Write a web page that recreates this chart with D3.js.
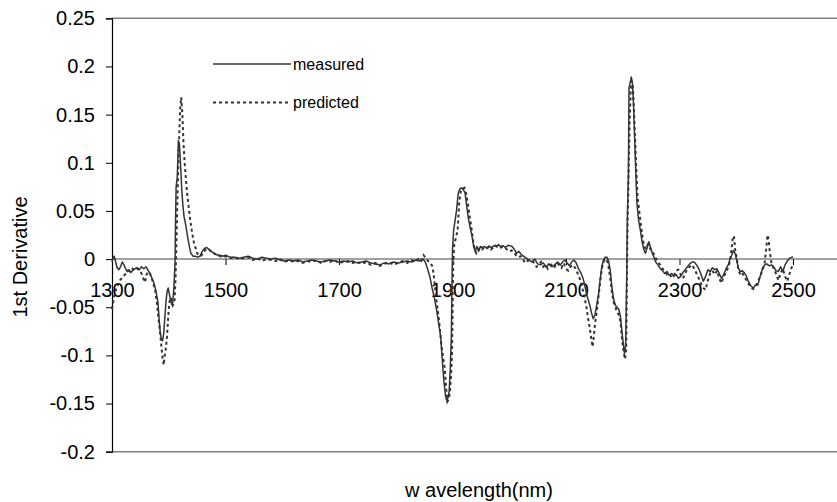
<!DOCTYPE html>
<html>
<head>
<meta charset="utf-8">
<script src="https://cdn.jsdelivr.net/npm/d3@7/dist/d3.min.js"></script>
<style>
  html, body { margin: 0; padding: 0; background: #fff; }
  svg { display: block; font-family: "Liberation Sans", Arial, sans-serif; }
</style>
</head>
<body>
<svg id="chart" width="837" height="502"></svg>
<script>
// Tick values on each axis
const xTicks = [1300, 1500, 1700, 1900, 2100, 2300, 2500];
const yTicks = [-0.2, -0.15, -0.1, -0.05, 0, 0.05, 0.1, 0.15, 0.2, 0.25];

// Series names
const seriesNames = ["measured", "predicted"];

// Measured 1st-derivative spectrum: [wavelength (nm), value]
const measured = [
  [1300,-0.003],[1302,0.001],[1304,0.003],[1306,-0.002],[1309,-0.009],[1312,-0.011],[1315,-0.008],
  [1318,-0.003],[1321,-0.006],[1324,-0.010],[1327,-0.013],[1330,-0.011],[1333,-0.014],[1336,-0.012],
  [1340,-0.010],[1344,-0.009],[1348,-0.011],[1352,-0.008],[1356,-0.010],[1360,-0.008],[1363,-0.011],
  [1366,-0.014],[1369,-0.018],[1372,-0.022],[1375,-0.027],[1378,-0.035],[1381,-0.045],[1383,-0.062],
  [1385,-0.076],[1387,-0.083],[1389,-0.085],[1391,-0.078],[1393,-0.062],[1395,-0.045],[1397,-0.034],
  [1399,-0.030],[1401,-0.036],[1403,-0.042],[1405,-0.047],[1407,-0.045],[1409,-0.030],[1411,-0.005],
  [1412,0.040],[1413,0.075],[1415,0.085],[1417,0.123],[1419,0.118],[1421,0.095],[1423,0.072],
  [1425,0.055],[1427,0.044],[1430,0.035],[1433,0.024],[1436,0.014],[1439,0.006],[1443,0.003],
  [1447,0.003],[1451,0.002],[1455,0.003],[1459,0.008],[1463,0.011],[1467,0.012],[1471,0.010],
  [1475,0.008],[1479,0.006],[1483,0.005],[1487,0.004],[1491,0.004],[1495,0.003],[1500,0.004],
  [1508,0.002],[1516,0.002],[1524,0.001],[1532,0.002],[1540,0.003],[1548,0.001],[1556,0.000],
  [1564,0.002],[1572,0.001],[1580,0.000],[1588,0.001],[1596,-0.001],[1604,-0.002],[1612,-0.001],
  [1620,-0.002],[1628,-0.001],[1636,-0.003],[1644,-0.002],[1652,-0.001],[1660,-0.002],[1668,-0.003],
  [1676,-0.002],[1684,-0.001],[1692,-0.002],[1700,-0.003],[1708,-0.002],[1716,-0.003],[1724,-0.002],
  [1732,-0.004],[1740,-0.003],[1748,-0.002],[1756,-0.004],[1764,-0.005],[1772,-0.006],[1780,-0.004],
  [1788,-0.005],[1796,-0.003],[1804,-0.004],[1812,-0.003],[1820,-0.002],[1828,-0.003],[1836,-0.001],
  [1842,-0.002],[1848,0.000],[1852,-0.003],[1856,-0.010],[1860,-0.018],[1864,-0.030],[1868,-0.040],
  [1872,-0.053],[1876,-0.068],[1879,-0.080],[1882,-0.105],[1885,-0.128],[1888,-0.143],[1890,-0.147],
  [1892,-0.144],[1894,-0.138],[1896,-0.115],[1898,-0.080],[1899,-0.030],[1900,0.010],[1902,0.030],
  [1904,0.038],[1907,0.050],[1910,0.068],[1913,0.073],[1916,0.074],[1919,0.072],[1922,0.069],
  [1925,0.055],[1928,0.042],[1931,0.033],[1934,0.025],[1937,0.014],[1940,0.008],[1943,0.013],
  [1946,0.008],[1949,0.013],[1953,0.012],[1957,0.013],[1961,0.011],[1965,0.013],[1969,0.012],
  [1973,0.014],[1977,0.013],[1981,0.015],[1985,0.013],[1989,0.014],[1993,0.012],[1997,0.014],
  [2001,0.014],[2005,0.013],[2009,0.010],[2013,0.006],[2017,0.008],[2021,0.005],[2025,0.003],
  [2030,0.001],[2035,-0.001],[2040,-0.003],[2045,0.000],[2050,-0.005],[2055,-0.006],[2060,-0.004],
  [2065,-0.008],[2070,-0.005],[2075,-0.008],[2080,-0.006],[2085,-0.003],[2090,-0.006],[2094,-0.003],
  [2098,-0.001],[2102,-0.004],[2106,-0.007],[2110,-0.003],[2114,-0.001],[2118,-0.004],[2122,-0.010],
  [2126,-0.014],[2130,-0.020],[2134,-0.030],[2138,-0.040],[2142,-0.048],[2145,-0.056],[2148,-0.062],
  [2151,-0.058],[2154,-0.048],[2157,-0.038],[2160,-0.022],[2163,-0.008],[2166,-0.001],[2169,0.002],
  [2172,0.002],[2175,-0.002],[2178,-0.012],[2181,-0.030],[2184,-0.042],[2187,-0.048],[2190,-0.050],
  [2193,-0.052],[2196,-0.060],[2199,-0.078],[2201,-0.088],[2203,-0.098],[2205,-0.090],[2207,-0.020],
  [2208,0.040],[2210,0.090],[2211,0.178],[2213,0.183],[2215,0.189],[2217,0.183],[2219,0.160],
  [2221,0.125],[2223,0.090],[2225,0.058],[2228,0.040],[2231,0.030],[2234,0.018],[2237,0.010],
  [2240,0.006],[2243,0.012],[2246,0.018],[2249,0.012],[2252,0.006],[2255,0.002],[2258,-0.003],
  [2262,-0.006],[2266,-0.010],[2270,-0.012],[2274,-0.015],[2278,-0.013],[2282,-0.017],[2286,-0.015],
  [2290,-0.018],[2294,-0.016],[2298,-0.020],[2302,-0.018],[2306,-0.014],[2310,-0.011],[2314,-0.008],
  [2318,-0.005],[2322,-0.003],[2326,-0.003],[2330,-0.006],[2334,-0.010],[2338,-0.016],[2342,-0.023],
  [2346,-0.018],[2350,-0.011],[2354,-0.013],[2358,-0.009],[2362,-0.011],[2366,-0.010],[2370,-0.015],
  [2374,-0.020],[2378,-0.016],[2382,-0.010],[2386,-0.006],[2389,0.000],[2392,0.004],[2395,0.009],
  [2398,0.006],[2401,-0.002],[2404,-0.010],[2407,-0.013],[2410,-0.012],[2414,-0.014],[2418,-0.018],
  [2422,-0.024],[2426,-0.028],[2430,-0.030],[2434,-0.027],[2438,-0.027],[2442,-0.018],[2446,-0.010],
  [2450,-0.006],[2454,-0.005],[2458,-0.007],[2462,-0.006],[2466,-0.008],[2470,-0.012],[2474,-0.013],
  [2478,-0.008],[2482,-0.013],[2486,-0.006],[2490,-0.002],[2494,0.001],[2498,0.002],[2500,0.002]
];

// Predicted 1st-derivative spectrum: [wavelength (nm), value]
const predicted = [
  [1300,-0.052],[1302,-0.045],[1305,-0.035],[1308,-0.030],[1311,-0.026],[1314,-0.022],[1317,-0.020],
  [1320,-0.018],[1324,-0.015],[1328,-0.012],[1332,-0.013],[1336,-0.010],[1340,-0.012],[1344,-0.010],
  [1348,-0.011],[1352,-0.015],[1355,-0.020],[1358,-0.024],[1361,-0.016],[1364,-0.013],[1367,-0.015],
  [1370,-0.020],[1373,-0.026],[1376,-0.032],[1379,-0.045],[1382,-0.062],[1385,-0.078],[1387,-0.090],
  [1389,-0.102],[1391,-0.110],[1393,-0.100],[1395,-0.092],[1397,-0.080],[1399,-0.060],[1401,-0.045],
  [1404,-0.040],[1407,-0.048],[1410,-0.045],[1412,-0.020],[1414,0.030],[1416,0.080],[1418,0.120],
  [1420,0.155],[1422,0.168],[1424,0.150],[1426,0.120],[1428,0.100],[1430,0.085],[1432,0.070],
  [1435,0.055],[1438,0.040],[1441,0.028],[1444,0.018],[1447,0.012],[1450,0.006],[1454,0.003],
  [1458,0.004],[1462,0.008],[1466,0.010],[1470,0.011],[1474,0.008],[1478,0.007],[1482,0.005],
  [1486,0.004],[1490,0.003],[1495,0.002],[1500,0.003],[1508,0.001],[1516,0.002],[1524,0.000],
  [1532,0.001],[1540,0.002],[1548,-0.001],[1556,0.001],[1564,-0.002],[1572,0.000],[1580,-0.001],
  [1588,-0.002],[1596,0.000],[1604,-0.003],[1612,-0.001],[1620,-0.003],[1628,-0.002],[1636,-0.004],
  [1644,-0.002],[1652,-0.003],[1660,-0.001],[1668,-0.004],[1676,-0.002],[1684,-0.003],[1692,-0.001],
  [1700,-0.004],[1708,-0.003],[1716,-0.002],[1724,-0.004],[1732,-0.003],[1740,-0.005],[1748,-0.003],
  [1756,-0.006],[1764,-0.004],[1772,-0.007],[1780,-0.005],[1788,-0.003],[1796,-0.006],[1804,-0.004],
  [1812,-0.002],[1820,-0.004],[1828,-0.001],[1834,-0.003],[1840,0.000],[1845,-0.002],[1849,0.004],
  [1853,0.001],[1857,-0.002],[1861,-0.004],[1865,-0.008],[1868,-0.022],[1871,-0.040],[1874,-0.053],
  [1877,-0.068],[1880,-0.087],[1883,-0.100],[1886,-0.112],[1889,-0.135],[1891,-0.148],[1893,-0.146],
  [1895,-0.140],[1897,-0.125],[1899,-0.100],[1900,-0.060],[1901,-0.010],[1903,0.015],[1906,0.022],
  [1909,0.030],[1912,0.060],[1915,0.072],[1918,0.073],[1921,0.074],[1924,0.068],[1927,0.058],
  [1930,0.045],[1933,0.034],[1936,0.020],[1939,0.010],[1942,0.006],[1945,0.008],[1948,0.012],
  [1952,0.010],[1956,0.012],[1960,0.011],[1964,0.013],[1968,0.010],[1972,0.012],[1976,0.014],
  [1980,0.012],[1984,0.011],[1988,0.013],[1992,0.012],[1996,0.010],[2000,0.008],[2004,0.009],
  [2008,0.007],[2012,0.004],[2016,0.002],[2020,0.003],[2024,0.000],[2028,-0.004],[2032,-0.002],
  [2036,-0.001],[2040,-0.002],[2044,-0.004],[2048,-0.008],[2052,-0.006],[2056,-0.003],[2060,-0.008],
  [2064,-0.006],[2068,-0.010],[2072,-0.007],[2076,-0.005],[2080,-0.008],[2084,-0.004],[2088,-0.006],
  [2092,-0.009],[2096,-0.004],[2100,-0.010],[2104,-0.012],[2108,-0.008],[2112,-0.006],[2116,-0.009],
  [2120,-0.014],[2124,-0.020],[2128,-0.028],[2132,-0.038],[2136,-0.050],[2139,-0.062],[2142,-0.072],
  [2145,-0.085],[2147,-0.091],[2149,-0.080],[2151,-0.068],[2154,-0.055],[2157,-0.040],[2160,-0.025],
  [2163,-0.010],[2166,-0.003],[2169,0.000],[2172,-0.001],[2175,-0.008],[2178,-0.020],[2181,-0.035],
  [2184,-0.045],[2187,-0.050],[2190,-0.055],[2193,-0.058],[2196,-0.065],[2199,-0.085],[2202,-0.098],
  [2204,-0.104],[2206,-0.095],[2207,-0.040],[2208,0.020],[2210,0.080],[2212,0.140],[2214,0.175],
  [2216,0.185],[2218,0.178],[2220,0.150],[2222,0.120],[2224,0.090],[2226,0.065],[2229,0.050],
  [2232,0.035],[2235,0.022],[2238,0.013],[2241,0.010],[2244,0.015],[2247,0.013],[2250,0.008],
  [2254,0.006],[2258,0.001],[2262,-0.003],[2266,-0.006],[2270,-0.010],[2274,-0.013],[2278,-0.016],
  [2282,-0.015],[2286,-0.019],[2290,-0.017],[2294,-0.012],[2298,-0.011],[2302,-0.016],[2306,-0.020],
  [2310,-0.015],[2314,-0.010],[2318,-0.008],[2322,-0.006],[2326,-0.010],[2330,-0.015],[2334,-0.020],
  [2338,-0.026],[2342,-0.030],[2346,-0.032],[2350,-0.022],[2354,-0.015],[2358,-0.012],[2362,-0.016],
  [2366,-0.012],[2370,-0.020],[2374,-0.025],[2378,-0.018],[2382,-0.014],[2386,-0.008],[2389,-0.002],
  [2392,0.012],[2394,0.024],[2396,0.023],[2398,0.010],[2401,0.000],[2404,-0.012],[2407,-0.016],
  [2410,-0.014],[2414,-0.018],[2418,-0.022],[2422,-0.026],[2426,-0.030],[2430,-0.031],[2434,-0.028],
  [2438,-0.024],[2442,-0.018],[2446,-0.012],[2450,-0.004],[2453,0.012],[2455,0.025],[2457,0.020],
  [2459,0.008],[2462,-0.004],[2466,-0.010],[2470,-0.015],[2474,-0.022],[2478,-0.015],[2482,-0.010],
  [2486,-0.018],[2490,-0.023],[2494,-0.015],[2498,-0.008],[2500,-0.004]
];

(function drawChart() {
  const svg = d3.select("#chart");
  const W = 837;

  // Plot area: left edge at the y axis, running off the right side
  const plotLeft = 112, plotTop = 18.3, plotBottom = 451.7;
  const x = d3.scaleLinear().domain([1300, 2577.5]).range([plotLeft, W]);
  const y = d3.scaleLinear().domain([-0.2, 0.25]).range([plotBottom, plotTop]);

  const ink = "#333333";
  const frame = "#808080";
  const fontFamily = "'Liberation Sans', Arial, sans-serif";

  // Plot frame (top and bottom edges)
  svg.append("line").attr("x1", plotLeft).attr("x2", W).attr("y1", plotTop).attr("y2", plotTop)
    .attr("stroke", frame).attr("stroke-width", 1.5);
  svg.append("line").attr("x1", plotLeft).attr("x2", W).attr("y1", plotBottom).attr("y2", plotBottom)
    .attr("stroke", frame).attr("stroke-width", 1.5);

  // Zero line
  svg.append("line").attr("x1", plotLeft).attr("x2", W).attr("y1", y(0)).attr("y2", y(0))
    .attr("stroke", frame).attr("stroke-width", 1.5);

  // Y axis
  const yAxis = d3.axisLeft(y).tickValues(yTicks).tickSize(6).tickPadding(11)
    .tickFormat(d => String(d));
  const gy = svg.append("g").attr("transform", `translate(${plotLeft},0)`).call(yAxis);
  gy.select(".domain").attr("stroke", "#000").attr("stroke-width", 1.2);
  gy.selectAll(".tick line").attr("stroke", "#000");
  gy.selectAll(".tick text").attr("font-size", 20).attr("fill", "#000")
    .attr("font-family", fontFamily);

  // X axis crossing at zero
  const xAxis = d3.axisBottom(x).tickValues(xTicks).tickSize(6).tickPadding(18)
    .tickFormat(d => String(d));
  const gx = svg.append("g").attr("transform", `translate(0,${y(0)})`).call(xAxis);
  gx.select(".domain").remove();
  gx.selectAll(".tick line").attr("stroke", "#000");
  gx.selectAll(".tick text").attr("font-size", 20).attr("fill", "#000")
    .attr("font-family", fontFamily);

  // Spectra
  const line = d3.line().x(d => x(d[0])).y(d => y(d[1]));
  svg.append("path").datum(measured).attr("d", line)
    .attr("fill", "none").attr("stroke", ink).attr("stroke-width", 1.5)
    .attr("stroke-linejoin", "round");
  svg.append("path").datum(predicted).attr("d", line)
    .attr("fill", "none").attr("stroke", ink).attr("stroke-width", 2)
    .attr("stroke-dasharray", "3,3");

  // Legend
  const legend = svg.append("g").attr("transform", "translate(213,0)");
  const legendRows = [
    { name: seriesNames[0], y: 64, dash: null, w: 1.5 },
    { name: seriesNames[1], y: 102.5, dash: "3,3", w: 2 }
  ];
  legendRows.forEach(r => {
    legend.append("line").attr("x1", 0).attr("x2", 78).attr("y1", r.y).attr("y2", r.y)
      .attr("stroke", ink).attr("stroke-width", r.w)
      .attr("stroke-dasharray", r.dash);
    legend.append("text").attr("x", 80).attr("y", r.y).attr("dy", "0.35em")
      .attr("font-size", 16).attr("fill", "#000").text(r.name);
  });

  // Axis titles
  svg.append("text").attr("x", 479).attr("y", 497).attr("text-anchor", "middle")
    .attr("font-size", 20).attr("fill", "#000").text("w avelength(nm)");
  svg.append("text").attr("transform", `translate(27,257) rotate(-90)`)
    .attr("text-anchor", "middle").attr("font-size", 20).attr("fill", "#000")
    .text("1st Derivative");
})();
</script>
</body>
</html>
